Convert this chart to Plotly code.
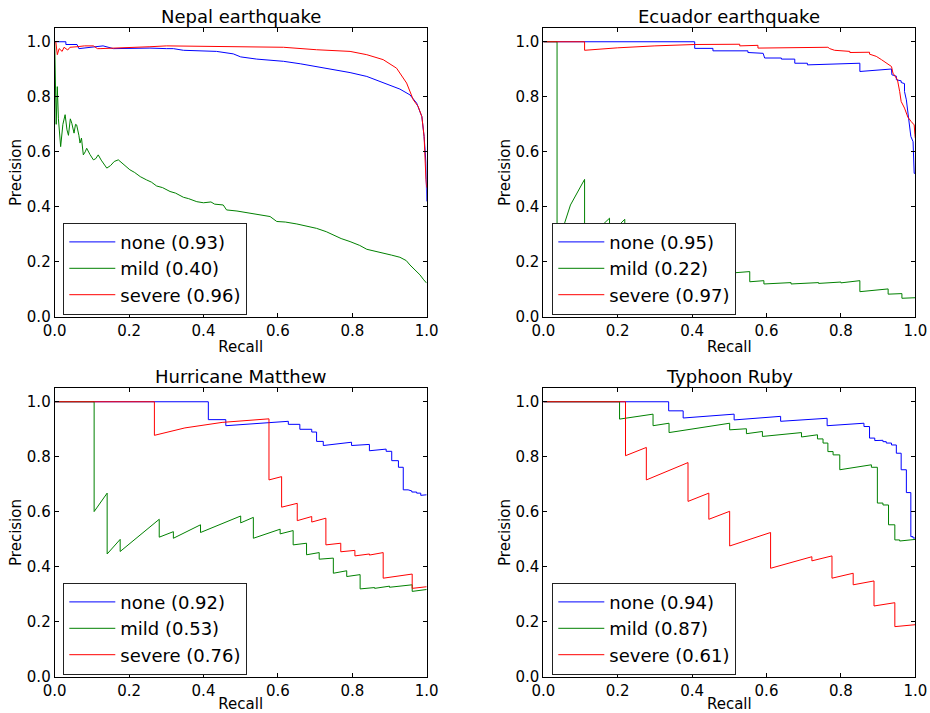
import plotly.graph_objects as go

classes = ["none", "mild", "severe"]
colors = {"none": "#0000ff", "mild": "#008000", "severe": "#ff0000"}
titles = ["Nepal earthquake", "Ecuador earthquake", "Hurricane Matthew", "Typhoon Ruby"]
ap_nepal = [0.93, 0.40, 0.96]
ap_ecuador = [0.95, 0.22, 0.97]
ap_matthew = [0.92, 0.53, 0.76]
ap_ruby = [0.94, 0.87, 0.61]
tick_vals = [0.0, 0.2, 0.4, 0.6, 0.8, 1.0]

# ---- Nepal earthquake ----
nepal_none_r = [0, 0.03, 0.03, 0.06, 0.065, 0.10, 0.13, 0.158, 0.20, 0.256, 0.30, 0.319, 0.346, 0.40, 0.435,
                0.48, 0.50, 0.543, 0.58, 0.615, 0.66, 0.704, 0.75, 0.794, 0.839, 0.883, 0.928, 0.955, 0.973,
                0.987, 0.993, 0.998, 1.0]
nepal_none_p = [1.0, 1.0, 0.99, 0.99, 0.975, 0.98, 0.985, 0.975, 0.976, 0.977, 0.975, 0.975, 0.969, 0.967, 0.965,
                0.956, 0.945, 0.937, 0.933, 0.929, 0.92, 0.910, 0.90, 0.888, 0.874, 0.850, 0.828, 0.807, 0.777,
                0.728, 0.656, 0.559, 0.42]
nepal_mild_r = [0, 0.002, 0.004, 0.007, 0.010, 0.016, 0.022, 0.028, 0.033, 0.037, 0.042, 0.046, 0.052, 0.056,
                0.059, 0.065, 0.068, 0.072, 0.077, 0.082, 0.086, 0.095, 0.104, 0.11, 0.117, 0.125, 0.133, 0.140,
                0.150, 0.160, 0.171, 0.180, 0.190, 0.202, 0.215, 0.23, 0.247, 0.26, 0.274, 0.29, 0.310, 0.325,
                0.346, 0.36, 0.382, 0.40, 0.42, 0.43, 0.453, 0.462, 0.49, 0.525, 0.55, 0.579, 0.597, 0.62, 0.651,
                0.68, 0.704, 0.73, 0.749, 0.77, 0.794, 0.82, 0.839, 0.86, 0.883, 0.905, 0.928, 0.945, 0.955, 0.97,
                0.982, 0.992, 1.0]
nepal_mild_p = [1.0, 0.80, 0.70, 0.837, 0.72, 0.619, 0.70, 0.735, 0.68, 0.66, 0.72, 0.704, 0.668, 0.70,
                0.698, 0.66, 0.632, 0.65, 0.589, 0.60, 0.613, 0.59, 0.571, 0.575, 0.589, 0.57, 0.555, 0.541,
                0.55, 0.565, 0.571, 0.56, 0.55, 0.535, 0.525, 0.51, 0.498, 0.49, 0.476, 0.47, 0.456, 0.45,
                0.435, 0.43, 0.419, 0.415, 0.418, 0.41, 0.407, 0.389, 0.385, 0.377, 0.372, 0.365, 0.347, 0.345, 0.338,
                0.33, 0.322, 0.31, 0.298, 0.285, 0.274, 0.26, 0.246, 0.24, 0.232, 0.225, 0.217, 0.205, 0.189, 0.17,
                0.153, 0.135, 0.123]
nepal_severe_r = [0, 0.003, 0.007, 0.012, 0.02, 0.025, 0.035, 0.041, 0.06, 0.08, 0.104, 0.115, 0.122, 0.2, 0.256,
                  0.301, 0.435, 0.55, 0.615, 0.704, 0.794, 0.839, 0.883, 0.919, 0.946, 0.964, 0.977, 0.987, 0.993,
                  0.998, 1.0]
nepal_severe_p = [1.0, 1.0, 0.953, 0.975, 0.965, 0.98, 0.97, 0.98, 0.982, 0.985, 0.985, 0.975, 0.975, 0.978, 0.982,
                  0.985, 0.983, 0.982, 0.98, 0.971, 0.965, 0.953, 0.935, 0.904, 0.85, 0.789, 0.765, 0.728, 0.656,
                  0.50, 0.47]

# ---- Ecuador earthquake ----
ecuador_none_r = [0, 0.407, 0.407, 0.456, 0.456, 0.55, 0.55, 0.591, 0.595, 0.64, 0.64, 0.676, 0.676, 0.71, 0.71,
                  0.833, 0.851, 0.851, 0.936, 0.937, 0.949, 0.949, 0.962, 0.962, 0.971, 0.971, 0.976, 0.982, 0.988,
                  0.994, 0.997, 1.0]
ecuador_none_p = [1.0, 1.0, 0.976, 0.976, 0.967, 0.967, 0.961, 0.958, 0.941, 0.941, 0.937, 0.937, 0.922, 0.922, 0.916,
                  0.922, 0.922, 0.892, 0.901, 0.880, 0.875, 0.862, 0.858, 0.852, 0.848, 0.819, 0.789, 0.722, 0.656,
                  0.637, 0.522, 0.522]
ecuador_mild_r = [0, 0.037, 0.037, 0.045, 0.057, 0.073, 0.111, 0.111, 0.14, 0.178, 0.178, 0.219, 0.219, 0.26, 0.30,
                  0.30, 0.35, 0.40, 0.40, 0.46, 0.46, 0.523, 0.555, 0.555, 0.593, 0.593, 0.666, 0.666, 0.74, 0.74,
                  0.80, 0.80, 0.851, 0.851, 0.927, 0.927, 0.964, 0.964, 1.0]
ecuador_mild_p = [1.0, 1.0, 0.25, 0.28, 0.34, 0.407, 0.50, 0.28, 0.31, 0.359, 0.30, 0.355, 0.27, 0.26, 0.25,
                  0.22, 0.21, 0.20, 0.18, 0.17, 0.155, 0.16, 0.165, 0.128, 0.132, 0.12, 0.125, 0.12, 0.125, 0.122,
                  0.127, 0.124, 0.132, 0.092, 0.102, 0.083, 0.085, 0.068, 0.07]
ecuador_severe_r = [0, 0.111, 0.111, 0.2, 0.3, 0.407, 0.528, 0.528, 0.577, 0.577, 0.765, 0.77, 0.783, 0.824, 0.824,
                    0.877, 0.877, 0.895, 0.909, 0.922, 0.936, 0.94, 0.952, 0.958, 0.962, 0.971, 0.98, 0.989, 0.997,
                    0.999, 1.0]
ecuador_severe_p = [1.0, 1.0, 0.969, 0.978, 0.985, 0.99, 0.991, 0.985, 0.987, 0.977, 0.98, 0.975, 0.969, 0.965, 0.961,
                    0.962, 0.955, 0.947, 0.935, 0.922, 0.91, 0.886, 0.862, 0.819, 0.783, 0.759, 0.726, 0.71, 0.698,
                    0.662, 0.65]

# ---- Hurricane Matthew ----
matthew_none_r = [0, 0.413, 0.413, 0.46, 0.46, 0.628, 0.628, 0.659, 0.659, 0.691, 0.691, 0.704, 0.704, 0.722, 0.722,
                  0.798, 0.798, 0.846, 0.846, 0.891, 0.891, 0.906, 0.906, 0.924, 0.924, 0.937, 0.937, 0.95, 0.96,
                  0.96, 0.973, 0.973, 0.984, 0.984, 1.0]
matthew_none_p = [1.0, 1.0, 0.935, 0.935, 0.913, 0.929, 0.918, 0.918, 0.90, 0.90, 0.89, 0.89, 0.856, 0.856, 0.841,
                  0.853, 0.841, 0.845, 0.822, 0.828, 0.82, 0.82, 0.786, 0.786, 0.762, 0.762, 0.68, 0.68, 0.676,
                  0.672, 0.672, 0.668, 0.668, 0.66, 0.662]
matthew_mild_r = [0, 0.106, 0.106, 0.141, 0.141, 0.176, 0.176, 0.281, 0.281, 0.319, 0.319, 0.392, 0.392, 0.50,
                  0.50, 0.534, 0.534, 0.606, 0.606, 0.641, 0.641, 0.677, 0.677, 0.711, 0.711, 0.749, 0.749, 0.785,
                  0.785, 0.821, 0.821, 0.86, 0.86, 0.9, 0.9, 0.961, 0.961, 1.0]
matthew_mild_p = [1.0, 1.0, 0.601, 0.668, 0.447, 0.50, 0.456, 0.573, 0.508, 0.528, 0.504, 0.553, 0.525, 0.585,
                  0.56, 0.58, 0.504, 0.537, 0.52, 0.532, 0.48, 0.486, 0.444, 0.452, 0.428, 0.432, 0.377, 0.386,
                  0.365, 0.372, 0.32, 0.325, 0.322, 0.33, 0.326, 0.335, 0.311, 0.318]
matthew_severe_r = [0, 0.268, 0.268, 0.35, 0.45, 0.576, 0.576, 0.61, 0.61, 0.652, 0.652, 0.691, 0.691, 0.729,
                    0.729, 0.769, 0.769, 0.807, 0.807, 0.846, 0.846, 0.883, 0.883, 0.961, 0.961, 1.0]
matthew_severe_p = [1.0, 1.0, 0.878, 0.905, 0.925, 0.938, 0.716, 0.728, 0.617, 0.631, 0.568, 0.583, 0.563, 0.577,
                    0.48, 0.486, 0.455, 0.46, 0.44, 0.447, 0.443, 0.452, 0.359, 0.374, 0.322, 0.328]

# ---- Typhoon Ruby ----
ruby_none_r = [0, 0.337, 0.337, 0.376, 0.376, 0.513, 0.513, 0.638, 0.638, 0.763, 0.763, 0.862, 0.862, 0.877, 0.877,
               0.891, 0.891, 0.913, 0.913, 0.922, 0.922, 0.936, 0.936, 0.949, 0.949, 0.962, 0.962, 0.976, 0.976,
               0.988, 0.988, 0.994, 0.994, 1.0]
ruby_none_p = [1.0, 1.0, 0.967, 0.967, 0.941, 0.955, 0.934, 0.947, 0.929, 0.94, 0.913, 0.922, 0.91, 0.91, 0.868,
               0.868, 0.859, 0.86, 0.855, 0.855, 0.85, 0.85, 0.843, 0.843, 0.813, 0.813, 0.753, 0.753, 0.67,
               0.67, 0.51, 0.51, 0.505, 0.505]
ruby_mild_r = [0, 0.205, 0.205, 0.295, 0.295, 0.338, 0.338, 0.501, 0.501, 0.546, 0.546, 0.589, 0.589, 0.694, 0.694,
               0.737, 0.737, 0.752, 0.752, 0.765, 0.765, 0.779, 0.779, 0.797, 0.797, 0.882, 0.882, 0.898, 0.898,
               0.913, 0.913, 0.928, 0.928, 0.945, 0.945, 0.958, 0.958, 1.0]
ruby_mild_p = [1.0, 1.0, 0.937, 0.955, 0.913, 0.922, 0.888, 0.922, 0.898, 0.902, 0.884, 0.892, 0.874, 0.888, 0.872,
               0.88, 0.865, 0.865, 0.85, 0.85, 0.819, 0.819, 0.807, 0.807, 0.753, 0.771, 0.762, 0.762, 0.632,
               0.632, 0.625, 0.625, 0.553, 0.553, 0.498, 0.498, 0.494, 0.50]
ruby_severe_r = [0, 0.221, 0.221, 0.277, 0.277, 0.389, 0.389, 0.445, 0.445, 0.501, 0.501, 0.611, 0.611, 0.722,
                 0.722, 0.776, 0.776, 0.833, 0.833, 0.889, 0.889, 0.945, 0.945, 1.0]
ruby_severe_p = [1.0, 1.0, 0.804, 0.834, 0.716, 0.779, 0.638, 0.668, 0.573, 0.602, 0.476, 0.525, 0.395, 0.437,
                 0.422, 0.44, 0.359, 0.377, 0.335, 0.349, 0.258, 0.27, 0.183, 0.19]

panels = [
    (titles[0], ap_nepal, [(nepal_none_r, nepal_none_p), (nepal_mild_r, nepal_mild_p), (nepal_severe_r, nepal_severe_p)]),
    (titles[1], ap_ecuador, [(ecuador_none_r, ecuador_none_p), (ecuador_mild_r, ecuador_mild_p), (ecuador_severe_r, ecuador_severe_p)]),
    (titles[2], ap_matthew, [(matthew_none_r, matthew_none_p), (matthew_mild_r, matthew_mild_p), (matthew_severe_r, matthew_severe_p)]),
    (titles[3], ap_ruby, [(ruby_none_r, ruby_none_p), (ruby_mild_r, ruby_mild_p), (ruby_severe_r, ruby_severe_p)]),
]

FONT = "DejaVu Sans"
W, H = 930, 713
x_domains = [[54.7 / W, 426.7 / W], [543.3 / W, 915.3 / W]]
y_domains = [[(H - 317) / H, (H - 28) / H], [(H - 677) / H, (H - 388) / H]]
legend_x = [63.3 / W, 552.3 / W]
legend_y = [(H - 222.7) / H, (H - 582.7) / H]

fig = go.Figure()
layout = dict(
    width=W, height=H,
    margin=dict(l=0, r=0, t=0, b=0, autoexpand=False),
    paper_bgcolor="white", plot_bgcolor="white",
    font=dict(family=FONT, color="black", size=15),
    annotations=[],
)

for i, (title, aps, series) in enumerate(panels):
    row, col = divmod(i, 2)
    n = "" if i == 0 else str(i + 1)
    leg = "legend" + n
    for cls, ap, (r, p) in zip(classes, aps, series):
        fig.add_trace(go.Scatter(
            x=r, y=p, mode="lines", name=f"{cls} ({ap:.2f})",
            line=dict(color=colors[cls], width=1),
            xaxis="x" + n, yaxis="y" + n, legend=leg,
        ))
    axis_common = dict(
        showline=True, linecolor="black", linewidth=1, mirror="ticks",
        ticks="inside", ticklen=4, tickcolor="black", tickwidth=1,
        showgrid=False, zeroline=False, tickfont=dict(size=15, family=FONT),
        tickvals=tick_vals, tickformat=".1f", automargin=False,
    )
    layout["xaxis" + n] = dict(axis_common, domain=x_domains[col], range=[0, 1],
                               anchor="y" + n,
                               title=dict(text="Recall", font=dict(size=15), standoff=2))
    layout["yaxis" + n] = dict(axis_common, domain=y_domains[row], range=[0, 1.05],
                               anchor="x" + n,
                               title=dict(text="Precision", font=dict(size=15), standoff=1))
    layout[leg] = dict(
        x=legend_x[col], y=legend_y[row], xanchor="left", yanchor="top",
        bgcolor="white", bordercolor="#222222", borderwidth=1,
        font=dict(size=18, family=FONT), itemwidth=46, traceorder="normal",
    )
    layout["annotations"].append(dict(
        text=title, x=sum(x_domains[col]) / 2, y=y_domains[row][1],
        xref="paper", yref="paper", xanchor="center", yanchor="bottom",
        showarrow=False, yshift=-1, font=dict(size=18, family=FONT),
    ))

fig.update_layout(**layout)
fig.write_html("out.html", config={"displayModeBar": False},
               post_script="document.body.style.margin='0';document.body.style.overflow='hidden';")
